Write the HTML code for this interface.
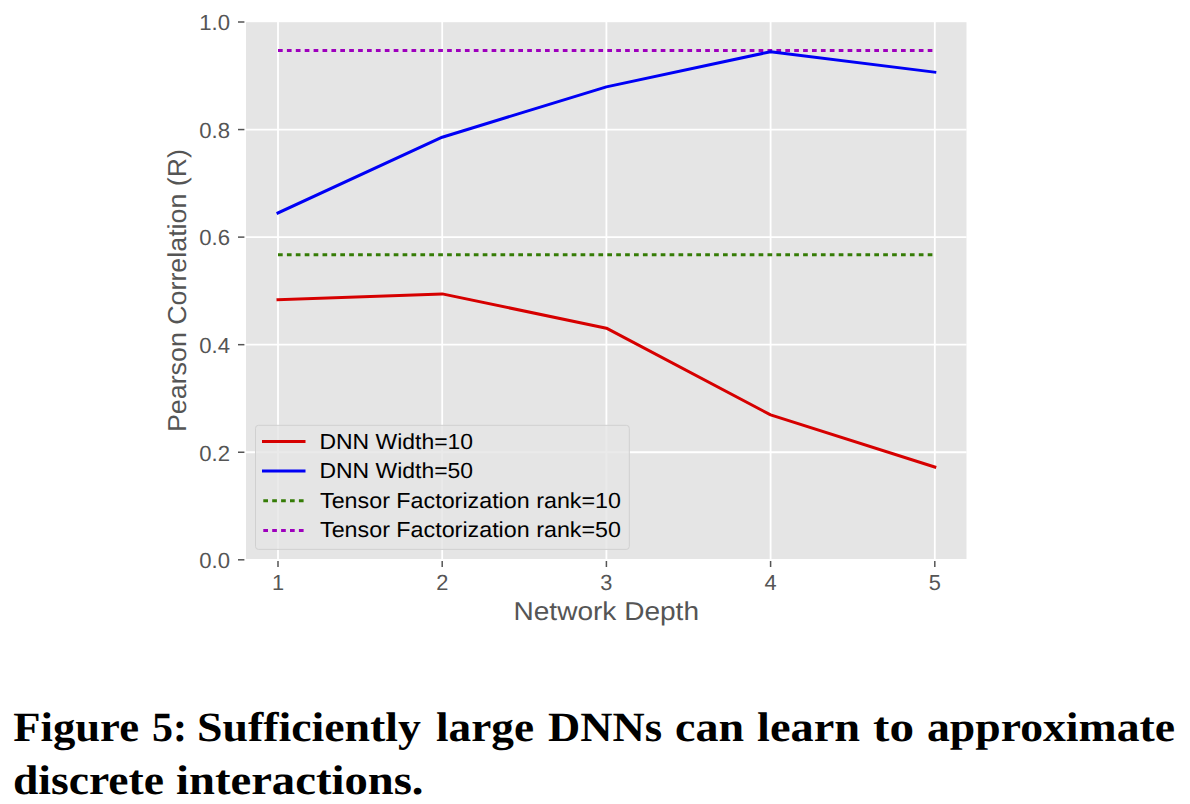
<!DOCTYPE html>
<html>
<head>
<meta charset="utf-8">
<style>
html,body{margin:0;padding:0;background:#fff;width:1190px;height:804px;overflow:hidden}
svg{display:block;text-rendering:geometricPrecision}
.s{font-family:"Liberation Sans",sans-serif}
.c{font-family:"Liberation Serif",serif;font-weight:bold}
</style>
</head>
<body>
<svg width="1190" height="804" viewBox="0 0 1190 804">
<rect x="0" y="0" width="1190" height="804" fill="#fff"/>
<!-- plot area -->
<rect x="246" y="22.2" width="720.5" height="536.8" fill="#e5e5e5"/>
<!-- grid -->
<g stroke="#fff" stroke-width="1.8">
<line x1="278" y1="22" x2="278" y2="559.8"/>
<line x1="442.2" y1="22" x2="442.2" y2="559.8"/>
<line x1="606.4" y1="22" x2="606.4" y2="559.8"/>
<line x1="770.6" y1="22" x2="770.6" y2="559.8"/>
<line x1="934.8" y1="22" x2="934.8" y2="559.8"/>
<line x1="246" y1="452.24" x2="966.5" y2="452.24"/>
<line x1="246" y1="344.68" x2="966.5" y2="344.68"/>
<line x1="246" y1="237.12" x2="966.5" y2="237.12"/>
<line x1="246" y1="129.56" x2="966.5" y2="129.56"/>
</g>
<!-- ticks -->
<g stroke="#555" stroke-width="1.5">
<line x1="238" y1="22" x2="244.4" y2="22"/>
<line x1="238" y1="129.56" x2="244.4" y2="129.56"/>
<line x1="238" y1="237.12" x2="244.4" y2="237.12"/>
<line x1="238" y1="344.68" x2="244.4" y2="344.68"/>
<line x1="238" y1="452.24" x2="244.4" y2="452.24"/>
<line x1="238" y1="559.8" x2="244.4" y2="559.8"/>
<line x1="278" y1="561" x2="278" y2="567"/>
<line x1="442.2" y1="561" x2="442.2" y2="567"/>
<line x1="606.4" y1="561" x2="606.4" y2="567"/>
<line x1="770.6" y1="561" x2="770.6" y2="567"/>
<line x1="934.8" y1="561" x2="934.8" y2="567"/>
</g>
<!-- data lines -->
<polyline fill="none" stroke="#9e00bd" stroke-width="3" stroke-dasharray="4.7 4.2" points="278,50.4 934.8,50.4"/>
<polyline fill="none" stroke="#357c06" stroke-width="3" stroke-dasharray="4.7 4.2" points="278,254.7 934.8,254.7"/>
<polyline fill="none" stroke="#d60000" stroke-width="3" stroke-linecap="square" stroke-linejoin="round" points="278,299.65 442.2,293.9 606.4,328.2 770.6,414.9 934.8,467.1"/>
<polyline fill="none" stroke="#0000f5" stroke-width="3" stroke-linecap="square" stroke-linejoin="round" points="278,212.9 442.2,137.2 606.4,86.9 770.6,51.7 934.8,72.2"/>
<!-- legend -->
<rect x="255.5" y="425.3" width="373.8" height="124.1" rx="3" ry="3" fill="#e5e5e5" fill-opacity="0.8" stroke="#d0d0d0" stroke-width="1"/>
<line x1="263.5" y1="441.5" x2="304" y2="441.5" stroke="#d60000" stroke-width="3" stroke-linecap="square"/>
<line x1="263.5" y1="471" x2="304" y2="471" stroke="#0000f5" stroke-width="3" stroke-linecap="square"/>
<line x1="263.3" y1="500.7" x2="305.5" y2="500.7" stroke="#357c06" stroke-width="3" stroke-dasharray="4.7 4.2"/>
<line x1="263.3" y1="530.4" x2="305.5" y2="530.4" stroke="#9e00bd" stroke-width="3" stroke-dasharray="4.7 4.2"/>
<g class="s" fill="#000" font-size="21.8">
<text x="319.5" y="448.5" textLength="153.6" lengthAdjust="spacingAndGlyphs">DNN Width=10</text>
<text x="319.5" y="478" textLength="153.6" lengthAdjust="spacingAndGlyphs">DNN Width=50</text>
<text x="320" y="507.9" textLength="301" lengthAdjust="spacingAndGlyphs">Tensor Factorization rank=10</text>
<text x="320" y="537.3" textLength="301" lengthAdjust="spacingAndGlyphs">Tensor Factorization rank=50</text>
</g>
<!-- tick labels -->
<g class="s" fill="#555" font-size="21.8" text-anchor="end">
<text x="230" y="30.3" textLength="30.8" lengthAdjust="spacingAndGlyphs">1.0</text>
<text x="230" y="137.8" textLength="30.8" lengthAdjust="spacingAndGlyphs">0.8</text>
<text x="230" y="245.3" textLength="30.8" lengthAdjust="spacingAndGlyphs">0.6</text>
<text x="230" y="352.8" textLength="30.8" lengthAdjust="spacingAndGlyphs">0.4</text>
<text x="230" y="460.5" textLength="30.8" lengthAdjust="spacingAndGlyphs">0.2</text>
<text x="230" y="568" textLength="30.8" lengthAdjust="spacingAndGlyphs">0.0</text>
</g>
<g class="s" fill="#555" font-size="21.8" text-anchor="middle">
<text x="278" y="589.9">1</text>
<text x="442.2" y="589.9">2</text>
<text x="606.4" y="589.9">3</text>
<text x="770.6" y="589.9">4</text>
<text x="934.8" y="589.9">5</text>
</g>
<text class="s" fill="#555" font-size="25.9" x="513.5" y="619.8" textLength="185.5" lengthAdjust="spacingAndGlyphs">Network Depth</text>
<text class="s" fill="#555" font-size="25.9" transform="translate(185.9,432) rotate(-90)" x="0" y="0" textLength="283" lengthAdjust="spacingAndGlyphs">Pearson Correlation (R)</text>
<!-- caption -->
<g class="c" fill="#000" font-size="41.6">
<text x="13.20" y="740.8" textLength="125.80" lengthAdjust="spacingAndGlyphs">Figure</text>
<text x="152.00" y="740.8" textLength="35.00" lengthAdjust="spacingAndGlyphs">5:</text>
<text x="197.00" y="740.8" textLength="224.00" lengthAdjust="spacingAndGlyphs">Sufficiently</text>
<text x="436.00" y="740.8" textLength="98.00" lengthAdjust="spacingAndGlyphs">large</text>
<text x="548.00" y="740.8" textLength="114.00" lengthAdjust="spacingAndGlyphs">DNNs</text>
<text x="675.00" y="740.8" textLength="69.00" lengthAdjust="spacingAndGlyphs">can</text>
<text x="757.00" y="740.8" textLength="103.00" lengthAdjust="spacingAndGlyphs">learn</text>
<text x="873.00" y="740.8" textLength="41.00" lengthAdjust="spacingAndGlyphs">to</text>
<text x="927.00" y="740.8" textLength="248.00" lengthAdjust="spacingAndGlyphs">approximate</text>
<text x="13.00" y="794.4" textLength="151.00" lengthAdjust="spacingAndGlyphs">discrete</text>
<text x="176.00" y="794.4" textLength="247.50" lengthAdjust="spacingAndGlyphs">interactions.</text>
</g>
</svg>
</body>
</html>
